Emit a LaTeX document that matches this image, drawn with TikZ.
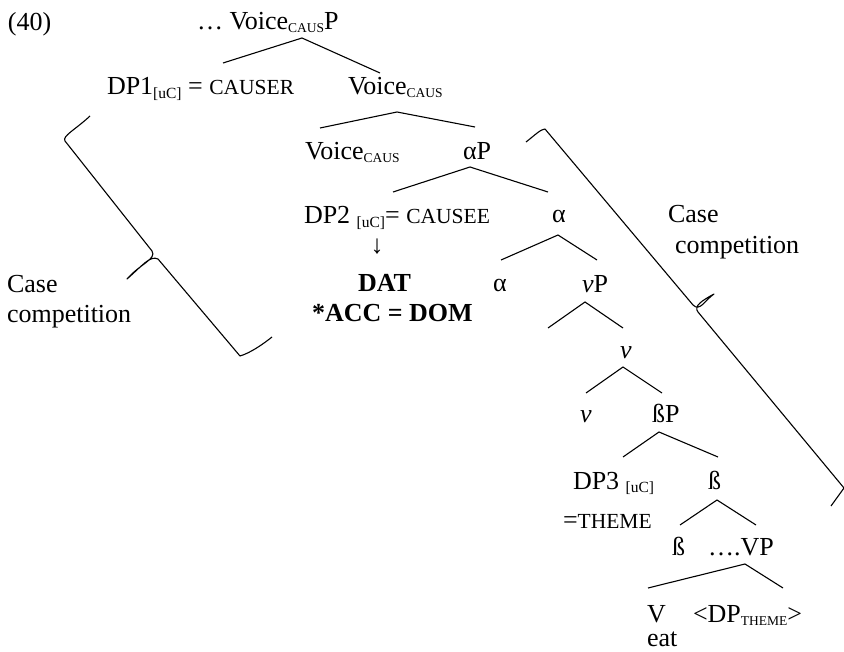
\documentclass[tikz,border=0pt]{standalone}
\usepackage{fontspec}
\setmainfont{Liberation Serif}
\newcommand\subc[1]{\raisebox{-3pt}{\fontsize{13.5}{14}\selectfont #1}}
\newcommand\subu[1]{\raisebox{-4pt}{\fontsize{15.5}{16}\selectfont #1}}
\newcommand\smc[1]{{\fontsize{21.5}{22}\selectfont #1}}
\begin{document}
\begin{tikzpicture}[x=1pt,y=-1pt,
  lbl/.style={anchor=base west,inner sep=0pt,outer sep=0pt,font=\fontsize{26}{30}\selectfont},
  br/.style={draw,line width=1.1pt},
  brace/.style={draw,line width=1.1pt,line join=round}]
\useasboundingbox (0,0) rectangle (844,652);
% labels
\node[lbl] (n40) at (8,31) {(40)};
\node[lbl] (top) at (197,30) {… Voice\subc{CAUS}P};
\node[lbl] (dp1) at (107,95) {DP1\subu{[uC]} = \smc{CAUSER}};
\node[lbl] (vc1) at (348,95) {Voice\subc{CAUS}};
\node[lbl] (vc2) at (305,160) {Voice\subc{CAUS}};
\node[lbl] (ap) at (463,160) {αP};
\node[lbl] (dp2) at (304,224) {DP2 \subu{[uC]}= \smc{CAUSEE}};
\node[lbl] (a1) at (552,223) {α};
\node[inner sep=0pt,font=\fontsize{26}{30}\selectfont] (arr) at (377,247) {↓};
\node[lbl,font=\fontsize{26}{30}\selectfont\bfseries] (dat) at (358,292) {DAT};
\node[lbl,font=\fontsize{26}{30}\selectfont\bfseries] (acc) at (312,322) {*ACC = DOM};
\node[lbl] (a2) at (493,292) {α};
\node[lbl] (vp) at (582,293) {\textit{v}P};
\node[lbl] (v1) at (620,359) {\textit{v}};
\node[lbl] (v2) at (580,423) {\textit{v}};
\node[lbl] (bp) at (652,423) {ßP};
\node[lbl] (dp3) at (573,489) {DP3 \subu{[uC]}};
\node[lbl] (thm) at (563,528) {=\smc{THEME}};
\node[lbl] (b1) at (708,489) {ß};
\node[lbl] (b2) at (672,555) {ß};
\node[lbl] (vvp) at (708,555) {….VP};
\node[lbl,align=left,font=\fontsize{26}{24}\selectfont] (vv) at (647,646) {V\\eat};
\node[lbl] (dpt) at (693,622) {<DP\subc{THEME}>};
\node[lbl] (cl1) at (7,293) {Case};
\node[lbl] (cl2) at (7,323) {competition};
\node[lbl] (cr1) at (668,223) {Case};
\node[lbl] (cr2) at (675,254) {competition};
% branch points
\foreach \n/\ax/\ay/\lx/\ly/\rx/\ry in {
  t/302/38/223/63/380/73,
  vo/397/112/320/128/475/127,
  al/470/167/393/192/548/192,
  am/558/235/501/260/597/260,
  vp/585/302/548/328/623/328,
  vm/623/367/586/393/662/393,
  bp/659/432/623/457/718/457,
  bm/717/500/680/525/756/525,
  vv/745/564/648/588/783/588}{
  \coordinate (\n A) at (\ax,\ay);
  \coordinate (\n L) at (\lx,\ly);
  \coordinate (\n R) at (\rx,\ry);
  \draw[br] (\n L) -- (\n A) -- (\n R);
}
% left brace
\coordinate (lb1) at (90,116);
\coordinate (lb2) at (65,141);
\coordinate (lb3) at (152,251);
\coordinate (lbt) at (127,279);
\coordinate (lb4) at (158,259);
\coordinate (lb5) at (240,356);
\coordinate (lb6) at (272,337);
\draw[brace] (lb1) .. controls (75,130) and (62,136) .. (lb2) -- (lb3)
  .. controls (157,259) and (140,264) .. (lbt)
  .. controls (142,266) and (150,255) .. (lb4) -- (lb5)
  .. controls (250,353) and (262,345) .. (lb6);
% right brace
\coordinate (rb1) at (526,142);
\coordinate (rb2) at (545,129);
\coordinate (rb3) at (693,305);
\coordinate (rbt) at (714,294);
\coordinate (rb4) at (698,312);
\coordinate (rb5) at (844,488);
\coordinate (rb6) at (831,506);
\draw[brace] (rb1) .. controls (535,135) and (541,129) .. (rb2) -- (rb3)
  .. controls (700,312) and (705,300) .. (rbt)
  .. controls (703,300) and (693,306) .. (rb4) -- (rb5) -- (rb6);
\end{tikzpicture}
\end{document}
